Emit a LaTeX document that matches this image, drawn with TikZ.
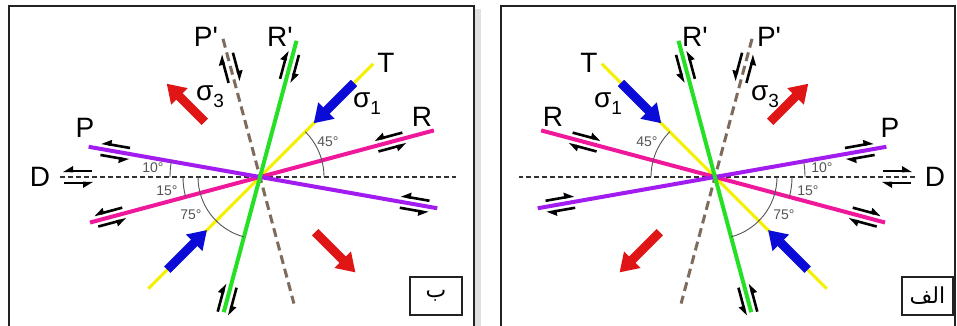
\documentclass[tikz,border=0pt]{standalone}
\usepackage{fontspec}
\setmainfont{Liberation Sans}
\newfontfamily\arabicfont[Script=Arabic]{DejaVu Sans}
\TeXXeTstate=1
\usetikzlibrary{arrows.meta}

\definecolor{planeP}{HTML}{A21CF0}
\definecolor{planeR}{HTML}{F0189A}
\definecolor{planeRp}{HTML}{25E025}
\definecolor{planeT}{HTML}{F5F000}
\definecolor{planePp}{HTML}{7D6B5E}
\definecolor{sigone}{HTML}{0B0BD8}
\definecolor{sigthree}{HTML}{E01515}
\definecolor{arcgray}{HTML}{555555}
\definecolor{framegray}{HTML}{222222}

\newcommand{\sig}[1]{σ\raisebox{-7pt}{\fontsize{19}{19}\selectfont #1}}
% pair of half arrows: line angle, distance from centre, sense (1 or -1)
\newcommand{\shearpair}[3]{%
  \begin{scope}[rotate=#1, shift={(#2,0)}, yscale=#3]
    \draw[shearline] (14,6) -- (-8,6);
    \fill (-15,4.9) -- (-5,4.7) -- (-5,11) -- cycle;
    \draw[shearline] (-14,-6) -- (8,-6);
    \fill (15,-4.9) -- (5,-4.7) -- (5,-11) -- cycle;
  \end{scope}}

\tikzset{
  plane/.style={line width=4pt, draw=#1},
  plane/.default=planeP,
  refline/.style={line width=1.3pt, draw=black!80, dash pattern=on 5pt off 3pt},
  conjdash/.style={line width=3pt, draw=planePp, dash pattern=on 9pt off 5pt},
  stress/.style={line width=9pt, draw=#1, -{Triangle[length=18pt, width=22pt]}},
  shearline/.style={line width=2.6pt, draw=black},
  anglearc/.style={line width=0.9pt, draw=arcgray},
  bigl/.style={font=\fontsize{28}{30}\selectfont, inner sep=0pt},
  anglel/.style={font=\fontsize{14}{15}\selectfont, text=arcgray, inner sep=0pt},
  panel/.style={line width=1.4pt, draw=framegray},
  tag/.style={draw=framegray, line width=1.2pt, minimum width=52pt, minimum height=38pt,
    font=\arabicfont\fontsize{22}{24}\selectfont, inner sep=0pt},
}

\begin{document}
\begin{tikzpicture}[x=1pt, y=1pt]
\useasboundingbox (0,0) rectangle (957,326);
\clip (0,0) rectangle (957,326);
\fill[white] (0,0) rectangle (957,326);

% === frames ===
\fill[black!12] (475,-10) rectangle (481,317);
\draw[panel] (9,-10) rectangle (474,320);
\draw[panel] (501,-10) rectangle (955,320);

% === both panels, the second one mirrored ===
\foreach \cx/\s/\pn in {260/1/b, 715/-1/a} {
  \begin{scope}[shift={(\cx,149)}, xscale=\s]
    % planes
    \draw[refline] (-200,0) -- (196,0);
    \draw[conjdash] (105:143) -- (285:131);
    \draw[plane=planeT, line width=3pt] (225:158) -- (45:160);
    \draw[plane=planeR] (195:176) -- (15:180);
    \draw[plane=planeP] (170:174) -- (-10:180);
    \draw[plane=planeRp] (255:140) -- (75:141);

    % angles
    \draw[anglearc] (64,0) arc[start angle=0, end angle=45, radius=64];
    \draw[anglearc] (180:62) arc[start angle=180, end angle=255, radius=62];
    \draw[anglearc] (170:90) arc[start angle=170, end angle=180, radius=90];
    \draw[anglearc] (180:77) arc[start angle=180, end angle=195, radius=77];
    \node[anglel] (a45\pn) at (68,35) {45°};
    \node[anglel] (a10\pn) at (-107,9) {10°};
    \node[anglel] (a15\pn) at (-93,-14) {15°};
    \node[anglel] (a75\pn) at (-69,-38) {75°};

    % stresses
    \draw[stress=sigone] (45:133) -- (45:76);
    \draw[stress=sigone] (225:131) -- (225:75);
    \draw[stress=sigthree] (135:78) -- (135:132);
    \draw[stress=sigthree] (-45:78) -- (-45:135);

    % shear senses
    \shearpair{-10}{-147}{1}
    \shearpair{-10}{157}{1}
    \shearpair{15}{-155}{1}
    \shearpair{15}{135}{1}
    \shearpair{0}{-182}{1}
    \shearpair{75}{114}{-1}
    \shearpair{75}{-127}{-1}
    \shearpair{105}{113}{-1}

    % labels
    \node[bigl] (lblP\pn) at (-175,49) {P};
    \node[bigl] (lblD\pn) at (-220,0) {D};
    \node[bigl] (lblPp\pn) at (-54,140) {P\textquotesingle};
    \node[bigl] (lblRp\pn) at (20,140) {R\textquotesingle};
    \node[bigl] (lblT\pn) at (126,114) {T};
    \node[bigl] (lblR\pn) at (162,60) {R};
    \node[bigl] (lblsthree\pn) at (-50,80) {\sig{3}};
    \node[bigl] (lblsone\pn) at (107,73) {\sig{1}};
  \end{scope}
}

% === panel tags ===
\node[tag] (tagb) at (436,30) {\beginR ب\endR};
\node[tag, minimum width=51pt] (taga) at (927.5,30) {\beginR الف\endR};

\end{tikzpicture}
\end{document}
